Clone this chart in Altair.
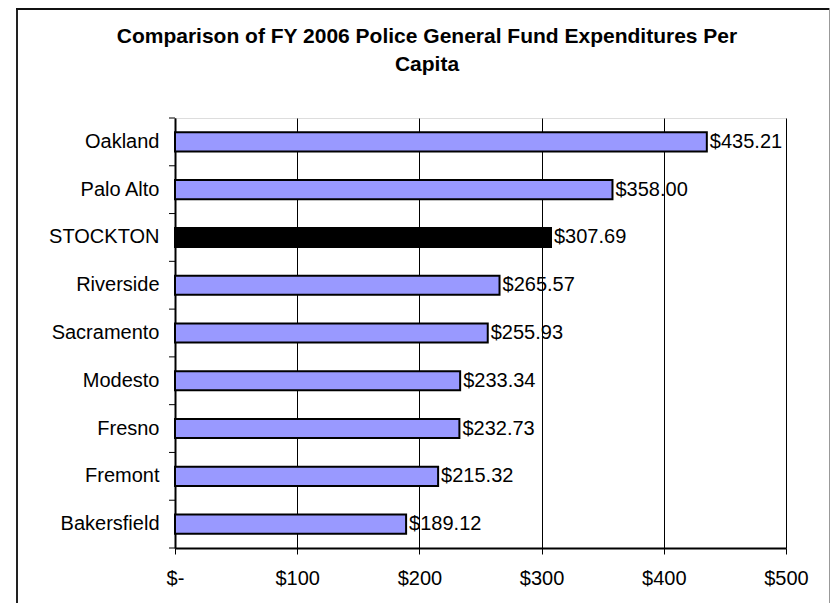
import altair as alt
import pandas as pd

cities = ["Oakland", "Palo Alto", "STOCKTON", "Riverside", "Sacramento",
          "Modesto", "Fresno", "Fremont", "Bakersfield"]
values = [435.21, 358.00, 307.69, 265.57, 255.93, 233.34, 232.73, 215.32, 189.12]
x_ticks = [0, 100, 200, 300, 400, 500]
title_lines = ["Comparison of FY 2006 Police General Fund Expenditures Per", "Capita"]

df = pd.DataFrame({"city": cities, "value": values})

FONT = "Liberation Sans"
FS = 20
W, H = 611, 430
P_IN, P_OUT = 0.6, 0.3
y_scale = alt.Scale(paddingInner=P_IN, paddingOuter=P_OUT)
step = H / (len(cities) - P_IN + 2 * P_OUT)
half_gap = step * P_IN / 2

y_enc = alt.Y("city:N", sort=cities, title=None, scale=y_scale,
              axis=alt.Axis(ticks=False, domainColor="black", domainWidth=2,
                            labelPadding=16, labelFont=FONT, labelFontSize=FS,
                            labelColor="black"))
x_enc = alt.X("value:Q", title=None,
              scale=alt.Scale(domain=[0, 500], nice=False),
              axis=alt.Axis(values=x_ticks, grid=True, gridColor="black", gridWidth=1,
                            domainColor="black", domainWidth=2,
                            tickColor="black", tickWidth=1, tickSize=6,
                            labelPadding=14, labelFont=FONT, labelFontSize=FS,
                            labelColor="black", labelFlush=False,
                            labelExpr="datum.value == 0 ? '$-' : '$' + datum.value"))

bars = alt.Chart(df).mark_bar(stroke="black", strokeWidth=2).encode(
    x=x_enc,
    y=y_enc,
    color=alt.condition(alt.datum.city == "STOCKTON", alt.value("black"), alt.value("#9999FF")),
)

# category-boundary ticks on the y axis (between bars, as in the original)
ticks_after = alt.Chart(df).mark_rule(color="black", strokeWidth=1, yOffset=half_gap).encode(
    y=alt.Y("city:N", sort=cities, scale=y_scale, bandPosition=1),
    x=alt.value(-6), x2=alt.value(0))
ticks_first = alt.Chart(df.head(1)).mark_rule(color="black", strokeWidth=1, yOffset=-half_gap).encode(
    y=alt.Y("city:N", sort=cities, scale=y_scale, bandPosition=0),
    x=alt.value(-6), x2=alt.value(0))

labels = alt.Chart(df).mark_text(align="left", baseline="middle", dx=3,
                                 font=FONT, fontSize=FS, color="black").encode(
    x="value:Q",
    y=alt.Y("city:N", sort=cities),
    text=alt.Text("value:Q", format="$.2f"),
)

title = alt.Chart(df.head(1)).mark_text(
    text=title_lines, align="center", baseline="top", font=FONT, fontSize=21,
    fontWeight="bold", color="black", lineHeight=28,
).encode(x=alt.value(252), y=alt.value(-92))

frame_left = alt.Chart(df.head(1)).mark_rect(color="#222222").encode(
    x=alt.value(-159), x2=alt.value(-157), y=alt.value(-110), y2=alt.value(600))
frame_top = alt.Chart(df.head(1)).mark_rect(color="#111111").encode(
    x=alt.value(-159), x2=alt.value(655), y=alt.value(-110), y2=alt.value(-108))
frame_right = alt.Chart(df.head(1)).mark_rect(color="#999999").encode(
    x=alt.value(654), x2=alt.value(655), y=alt.value(-110), y2=alt.value(600))

chart = alt.layer(frame_left, frame_top, frame_right, bars, ticks_after, ticks_first,
                  labels, title).properties(
    width=W, height=H,
    autosize=alt.AutoSizeParams(type="none"),
    padding={"left": 167, "top": 110, "right": 45, "bottom": 55},
).configure_view(stroke="#888888", strokeWidth=2).configure(background="white")

chart.save("out.html", embed_options={"renderer": "svg", "actions": False})
